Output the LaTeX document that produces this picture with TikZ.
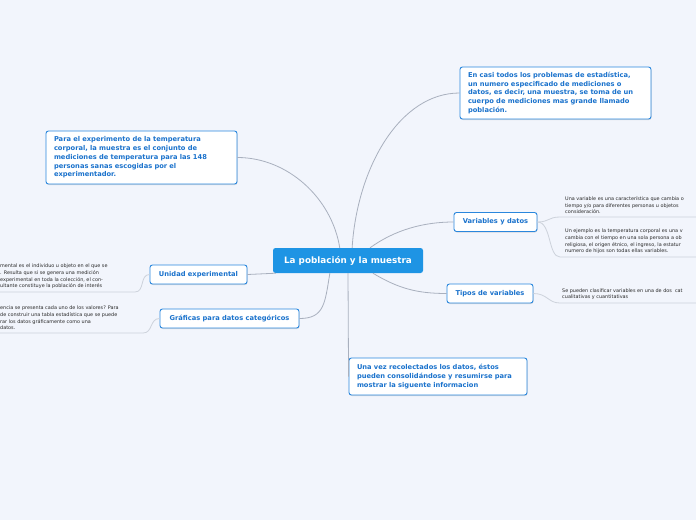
\documentclass[tikz,border=0pt]{standalone}
\usepackage{fontspec}
\setmainfont{DejaVu Sans}
\usetikzlibrary{positioning,shadows}

\definecolor{mapbg}{HTML}{F2F5FC}
\definecolor{rootblue}{HTML}{1E94E4}
\definecolor{boxblue}{HTML}{2A87DD}
\definecolor{textblue}{HTML}{1A72CC}
\definecolor{branchgrey}{HTML}{A9B0BE}
\definecolor{leafgrey}{HTML}{CDD2DB}
\definecolor{leafink}{HTML}{2A2A2A}

\begin{document}
\begin{tikzpicture}[
    x=1pt, y=-1pt,
    root/.style={
        fill=rootblue,
        rounded corners=2.5pt,
        text=white,
        font=\fontsize{8.8}{10}\selectfont\bfseries,
        minimum width=150pt,
        minimum height=25pt,
        inner sep=2pt
    },
    topic/.style={
        draw=boxblue,
        fill=white,
        line width=0.9pt,
        rounded corners=2.5pt,
        text=textblue,
        font=\fontsize{6.7}{8.7}\selectfont\bfseries,
        align=left,
        inner xsep=8pt,
        inner ysep=3pt,
        drop shadow={shadow xshift=0.5pt, shadow yshift=-1pt,
            fill=black, opacity=0.12}
    },
    subtopic/.style={
        topic,
        align=center,
        minimum height=19pt
    },
    branch/.style={
        draw=branchgrey,
        line width=0.8pt
    },
    leaf/.style={
        draw=leafgrey,
        line width=0.8pt
    },
    leaftext/.style={
        text=leafink,
        font=\fontsize{4.9}{6.6}\selectfont,
        align=left,
        inner sep=0pt
    }
]

\fill[mapbg] (0,0) rectangle (696,520);
\useasboundingbox (0,0) rectangle (696,520);

% ------------------------------------------------------------------
% Central topic
% ------------------------------------------------------------------

\node[root] (root) at (348,260.5)
    {La población y la muestra};

% ------------------------------------------------------------------
% Main topics
% ------------------------------------------------------------------

\node[topic, text width=175pt, minimum height=52pt] (casi) at (555.5,93)
    {En casi todos los problemas de estadística,\\
     un numero especificado de mediciones o\\
     datos, es decir, una muestra, se toma de un\\
     cuerpo de mediciones mas grande llamado\\
     población.};

\node[topic, text width=175pt, minimum height=53pt] (experimento) at (141.5,157.5)
    {Para el experimento de la temperatura\\
     corporal, la muestra es el conjunto de\\
     mediciones de temperatura para las 148\\
     personas sanas escogidas por el\\
     experimentador.};

\node[topic, text width=162pt, minimum height=37pt] (recolectados) at (438,376.5)
    {Una vez recolectados los datos, éstos\\
     pueden consolidándose y resumirse para\\
     mostrar la siguente informacion};

\node[subtopic, minimum width=83pt] (vardatos) at (495.5,222)
    {Variables y datos};

\node[subtopic, minimum width=86pt] (tipos) at (490,293.5)
    {Tipos de variables};

\node[subtopic, minimum width=97pt] (unidad) at (198.5,274.5)
    {Unidad experimental};

\node[subtopic, minimum width=139pt] (graficas) at (229.5,318.5)
    {Gráficas para datos categóricos};

\draw[branch] (root.72) .. controls +(5,-80) and +(-60,0) .. (casi.west);
\draw[branch] (root.123) .. controls +(-8,-50) and +(50,0) .. (experimento.east);
\draw[branch] (root.30) .. controls +(25,-18) and +(-30,0) .. (vardatos.west);
\draw[branch] (root.-27) .. controls +(25,15) and +(-30,0) .. (tipos.west);
\draw[branch] (root.215) .. controls +(-5,30) and +(25,0) .. (graficas.east);
\draw[branch] (root.190) -- (unidad.east);
\draw[branch] (root.south) -- (recolectados.west);

% ------------------------------------------------------------------
% Details (cut off at the page edge)
% ------------------------------------------------------------------

\coordinate (vd1a) at (560,217);
\coordinate (vd1b) at (696,217);
\coordinate (vd2a) at (560,257);
\coordinate (vd2b) at (696,257);
\coordinate (tp1a) at (560,303);
\coordinate (tp1b) at (696,303);
\coordinate (un1a) at (135,292);
\coordinate (un1b) at (0,292);
\coordinate (gr1a) at (143,333);
\coordinate (gr1b) at (0,333);

\draw[leaf] (vardatos.east) .. controls +(12,0) and +(-12,0) .. (vd1a) -- (vd1b);
\draw[leaf] (vardatos.east) .. controls +(14,0) and +(-12,0) .. (vd2a) -- (vd2b);
\draw[leaf] (tipos.east) .. controls +(14,0) and +(-12,0) .. (tp1a) -- (tp1b);
\draw[leaf] (unidad.west) .. controls +(-10,0) and +(10,0) .. (un1a) -- (un1b);
\draw[leaf] (graficas.west) .. controls +(-10,0) and +(10,0) .. (gr1a) -- (gr1b);

\node[leaftext, above right=3pt and 5pt of vd1a] (vd1txt)
    {Una variable es una característica que cambia o\\
     tiempo y/o para diferentes personas u objetos\\
     consideración.};

\node[leaftext, above right=3pt and 5pt of vd2a] (vd2txt)
    {Un ejemplo es la temperatura corporal es una v\\
     cambia con el tiempo en una sola persona a ob\\
     religiosa, el origen étnico, el ingreso, la estatur\\
     numero de hijos son todas ellas variables.};

\node[leaftext, above right=3pt and 2pt of tp1a] (tp1txt)
    {Se pueden clasificar variables en una de dos \ cat\\
     cualitativas y cuantitativas};

\node[leaftext, above right=3pt and 0pt of un1b] (un1txt)
    {mental es el individuo u objeto en el que se\\
     . Resulta que si se genera una medición\\
     experimental en toda la colección, el con-\\
     ultante constituye la población de interés};

\node[leaftext, above right=3pt and 0pt of gr1b] (gr1txt)
    {encia se presenta cada uno de los valores? Para\\
     de construir una tabla estadística que se puede\\
     rar los datos gráficamente como una\\
     datos.};

\end{tikzpicture}
\end{document}
